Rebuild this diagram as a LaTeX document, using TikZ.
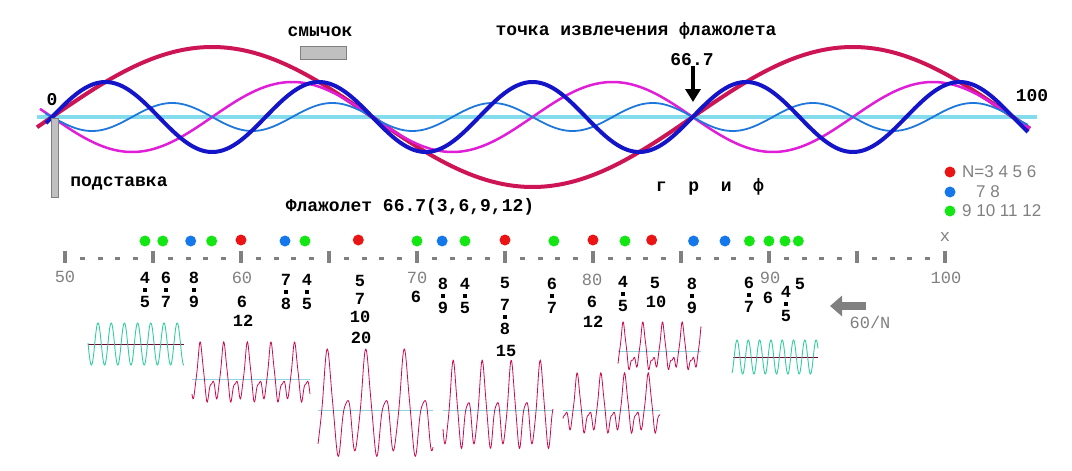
\documentclass[tikz,border=0pt]{standalone}
\usepackage{fontspec}
\setmonofont{Liberation Mono}
\setsansfont{Liberation Sans}
\usepackage{xcolor}
\usetikzlibrary{arrows.meta, positioning, calc}
\definecolor{crim}{RGB}{205,20,85}
\definecolor{magn}{RGB}{225,30,215}
\definecolor{dblue}{RGB}{20,20,200}
\definecolor{lblue}{RGB}{30,120,220}
\definecolor{strc}{RGB}{130,220,235}
\definecolor{reddot}{RGB}{235,20,20}
\definecolor{bluedot}{RGB}{20,120,235}
\definecolor{greendot}{RGB}{20,230,20}
\definecolor{sinec}{RGB}{50,205,160}
\definecolor{wcol}{RGB}{200,10,80}
\definecolor{basec}{RGB}{140,215,225}
\definecolor{greyc}{RGB}{128,128,128}
\definecolor{boxc}{RGB}{192,192,192}

\tikzset{
  txt/.style={font=\ttfamily\bfseries\fontsize{18}{20}\selectfont, inner sep=0pt},
  num/.style={font=\ttfamily\bfseries\fontsize{17}{18}\selectfont, inner sep=0pt},
  scl/.style={font=\ttfamily\fontsize{17}{18}\selectfont, text=greyc, inner sep=0pt},
  leg/.style={font=\sffamily\fontsize{17}{18}\selectfont, text=greyc, inner sep=0pt, anchor=west},
  dotn/.style={circle, inner sep=0pt, minimum size=11pt},
  sepdot/.style={fill=black, inner sep=0pt, minimum size=3.5pt},
  wav/.style={wcol, line width=0.8pt},
  sine/.style={sinec, line width=0.9pt},
  declare function={hw(\t,\a,\b)=\a*cos(\t)+\b*cos(2*\t-10)+0.08*cos(5*\t);}
}

\begin{document}
\begin{tikzpicture}[x=1pt, y=-1pt]
  \useasboundingbox (0,0) rectangle (1072,471);

  \draw[strc, line width=4pt] (37,117) -- (1037,117);
  \draw[crim, line width=4pt] plot[domain=37:1030, samples=300] (\x, {117-70*sin((\x-52)/961*540)});
  \draw[magn, line width=2.5pt] plot[domain=40:1030, samples=300] (\x, {117+35*sin((\x-52)/961*1080)});
  \draw[lblue, line width=1.8pt] plot[domain=45:1028, samples=400] (\x, {117+14*sin((\x-52)/961*2160)});
  \draw[dblue, line width=4pt] plot[domain=46:1028, samples=400] (\x, {117-35*sin((\x-52)/961*1620)});

  \draw[greyc, fill=boxc] (51,118) rectangle (58,197);
  \draw[greyc, fill=boxc] (300,46) rectangle (346,59);
  \node[txt] (bow) at (320,32) {смычок};
  \node[txt] (bridge) at (119,183) {подставка};
  \node[txt] (zero) at (52,100) {0};
  \node[txt] (hundred) at (1032,96) {100};
  \node[txt] (title) at (636,31) {точка извлечения флажолета};
  \node[txt] (n667) at (692,60) {66.7};
  \coordinate (hp) at (693,102);
  \draw[line width=4pt, -{Triangle[length=13pt,width=15pt]}] (n667.south -| hp) -- (hp);
  \node[txt] (grif) at (710,187) {г~~р~~и~~ф};
  \node[txt] (flag) at (410,207) {Флажолет 66.7(3,6,9,12)};

  \node[dotn, fill=reddot] (lr) at (950,172) {};
  \node[dotn, fill=bluedot] (lb) at (950,192) {};
  \node[dotn, fill=greendot] (lg) at (950,211) {};
  \node[leg] (lt1) at (962,172) {N=3 4 5 6};
  \node[leg] (lt2) at (976,192) {7 8};
  \node[leg] (lt3) at (962,211) {9 10 11 12};

  \foreach \k in {0,...,10}
    \draw[greyc, line width=4pt] (65+88*\k,251) -- ++(0,12);
  \foreach \k in {0,...,9}
    \foreach \j in {1,...,4}
      \draw[greyc, line width=3pt] (62.5+88*\k+17.6*\j,258.5) -- ++(5,0);
  \foreach \px/\py/\t [count=\i] in {65/277/50, 242/278/60, 417/278/70, 592/280/80, 770/278/90, 946/278/100}
    \node[scl] (s\i) at (\px,\py) {\t};
  \node[scl] (xmark) at (945,237) {x};

  \foreach \n/\d [count=\i] in {3/5, 2/3, 3/4, 4/5, 5/6}
    \node[dotn, fill=reddot] (dr\i) at (\n/\d*1760-815,240) {};
  \foreach \n/\d [count=\i] in {4/7, 5/8, 5/7, 6/7, 7/8}
    \node[dotn, fill=bluedot] (db\i) at (\n/\d*1760-815,241) {};
  \foreach \n/\d [count=\i] in {6/11, 5/9, 7/12, 7/11, 7/10, 8/11, 7/9, 9/11, 8/9, 9/10, 10/11, 11/12}
    \node[dotn, fill=greendot] (dg\i) at (\n/\d*1760-815,241) {};

  \foreach \px/\py/\a/\b [count=\i] in {145/278/4/5, 166/278/6/7, 194/278/8/9, 286/280/7/8, 307/280/4/5,
      443/284/8/9, 465/284/4/5, 505/305/7/8, 552/284/6/7, 623/282/4/5, 692/284/8/9, 749/283/6/7, 786/292/4/5} {
    \node[num] (ra\i) at (\px,\py) {\a};
    \node[num] (rb\i) at (\px,\py+24) {\b};
    \node[sepdot] (rs\i) at ($(ra\i)!0.5!(rb\i)$) {};
  }
  \foreach \px/\py/\t [count=\i] in {242/302/6, 243/321/12, 360/281/5, 360/299/7, 360/317/10, 361/338/20,
      416/297/6, 505/283/5, 506/351/15, 592/302/6, 593/322/12, 655/283/5, 656/302/10, 768/298/6, 800/284/5}
    \node[num] (v\i) at (\px,\py) {\t};

  \coordinate (as) at (866,306);
  \coordinate (ae) at (830,306);
  \draw[greyc, line width=8pt, -{Triangle[length=12pt,width=20pt]}] (as) -- (ae);
  \node[scl] (perN) at (870,322) {60/N};

  \draw[wcol!60!black, line width=0.6pt] (88,344) -- (184,344);
  \draw[sine] plot[domain=88:184, samples=250] (\x, {344-21*sin((\x-94.7)/13.2*360)});
  \draw[wcol!60!black, line width=0.6pt] (733,357) -- (818,357);
  \draw[sine] plot[domain=732:818, samples=250] (\x, {357-17*sin((\x-734.2)/11.3*360)});

  \foreach \a/\b/\c in {192/310/379, 318/433/410, 443/553/410, 563/660/410, 618/701/351}
    \draw[basec, line width=0.6pt] (\a,\c) -- (\b,\c);
  \draw[wav] plot[domain=192:310, samples=250] (\x, {379-33*hw((\x-200)/23.6*360,0.55,0.5)});
  \draw[wav] plot[domain=318:433, samples=250] (\x, {412-56*hw((\x-327)/38.5*360,0.4,0.65)});
  \draw[wav] plot[domain=443:553, samples=250] (\x, {412-46*hw((\x-453)/29*360,0.4,0.65)});
  \draw[wav] plot[domain=563:660, samples=250] (\x, {410-33*hw((\x-577)/23.7*360,0.55,0.5)});
  \draw[wav] plot[domain=618:701, samples=250] (\x, {352-28*hw((\x-623)/19.7*360,0.6,0.4)});
\end{tikzpicture}
\end{document}
